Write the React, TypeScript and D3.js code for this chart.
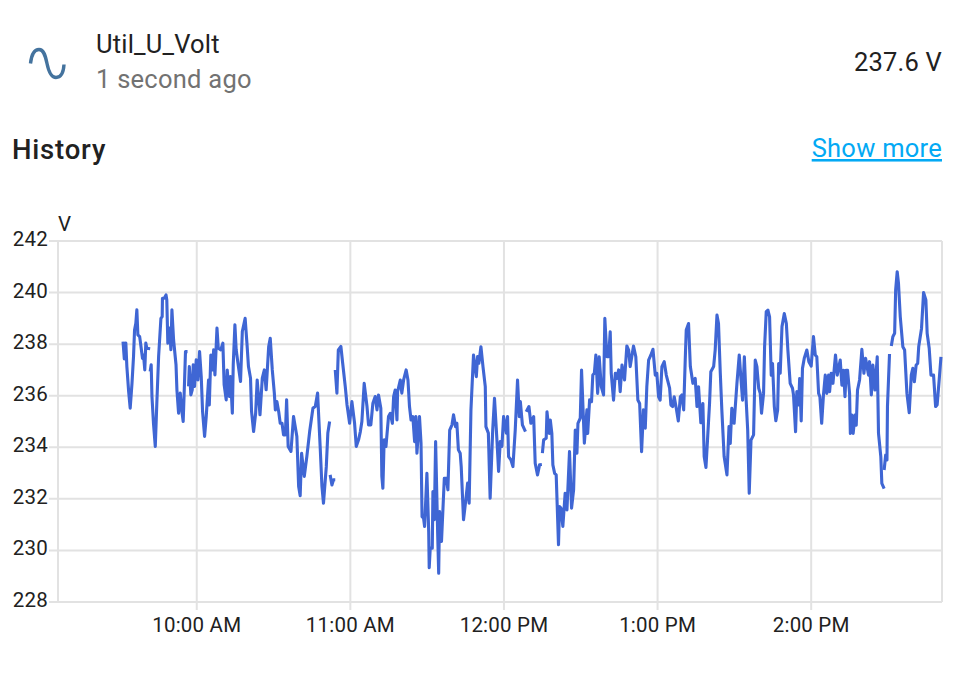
import React from "react";
import * as d3 from "d3";

type P = [number, number];
// [minutes after 10:00 AM, volts]
const run1: P[] = [[-28.8,238.1],[-28.3,237.43],[-27.7,238.04],[-27.3,237.13],[-26.6,236.16],[-26,235.52],[-25.3,236.48],[-24.7,237.52],[-24.3,238.55],[-23.8,238.81],[-23.4,239.33],[-23,238.36],[-22.3,238.29],[-21.7,237.84],[-21.2,237.45],[-20.8,237.58],[-20.3,237],[-19.9,238.04],[-19.5,237.84],[-18.2,237.82]];
const run2: P[] = [[-18.2,236.94],[-17.8,237.2],[-17.5,235.97],[-16.9,234.93],[-16.2,234.03],[-15.6,235.71],[-14.9,237.52],[-14,239],[-13.5,239.07],[-13.4,239.78],[-12.7,239.78],[-12,239.91],[-11.7,239.71],[-11.3,238.04],[-10.6,238.62],[-10.1,237.78],[-9.7,239.33],[-9.05,238.16],[-8.1,237.2],[-7.75,236.23],[-7.1,235.32],[-6.45,236.1],[-5.8,235.39],[-5.3,235],[-4.75,236.61],[-4.4,237.71],[-3.6,237.71]];
const run3: P[] = [[-3.2,236.36],[-2.9,237.13],[-2.3,236.03],[-1.76,236.23],[-1.37,237.2],[-0.85,236.36],[-0.2,237.39],[0.45,236.61],[1.1,237.71],[1.75,236.74],[2.27,235.39],[3.06,234.42],[3.7,235.19],[4.6,236.61],[4.9,235.64],[5.5,237.58],[6.2,237],[6.6,237.78],[7.1,236.81],[7.9,238.62],[8.4,237.84],[9.4,237.78],[10.2,238.04],[10.7,236.42],[11.5,235.84],[11.9,237],[12.7,235.97],[13.2,236.74],[13.9,235.32],[14.25,237.2],[14.9,238.75],[15.4,237.78],[16.1,237.26],[17.1,236.55],[17.8,238.49],[18.9,239],[19.6,238.04],[20.2,237.13],[21,236.68],[21.4,235.39],[22.2,234.61],[23,235.32],[23.6,236.61],[24.7,235.26],[25.6,236.68],[26.4,237],[27.1,236.23],[28.1,237.91],[28.7,238.23],[29.5,237],[30.3,236.1],[30.7,235.45],[31.3,235.77],[32,235.39],[32.6,234.93],[33.3,234.93],[33.9,234.48],[34.6,234.48],[35.1,235.84],[35.7,234.03],[36.8,233.84],[37.8,235.19],[39.1,234.42],[39.8,232.48],[40.4,232.12],[40.95,233.77],[42,232.87],[43,233.64],[44.1,234.61],[45.1,235.32],[45.4,235.52],[46.3,235.58],[47.2,236.1],[48.2,234.03],[48.9,232.48],[49.5,231.83],[50.6,233.25],[51.2,234.55],[51.9,235]];
const run4: P[] = [[52.1,232.93],[52.8,232.54],[53.4,232.74],[54.1,232.74]];
const run5: P[] = [[54.1,237],[54.75,236.1],[55.3,237.78],[56.3,237.91],[57,237.26],[58,236.36],[58.7,235.64],[59.7,234.93],[60.6,235.77],[61.65,234.93],[62.3,234.03],[63.2,234.29],[63.9,234.61],[64.5,235],[65.4,236.48],[66.5,235.58],[67.1,234.87],[68,234.87],[68.8,235.71],[69.7,235.97],[70.4,235.45],[71,236.03],[71.9,235.51],[72.3,232.87],[72.7,232.41],[73.2,234.29],[73.9,234.03],[74.9,235.19],[75.6,235.32],[76.4,234.93],[76.9,235.97],[77.5,236.22],[78.2,235.06],[78.45,236.16],[79.5,236.61],[80.1,236.1],[80.8,236.61],[81.8,237],[82.5,236.61],[83.1,235.58],[83.7,235.06],[84.4,235.19],[85.1,234.22],[85.6,235.19],[86,233.77],[87,235.19],[87.6,234.16],[88,231.31],[88.6,231.25],[89,230.93],[89.9,232.99],[90.6,230.73],[90.8,229.33],[91.2,230.09],[92,230.09],[92.25,232.28],[92.8,231.19],[93.3,234.22],[94.1,230.67],[94.5,229.12],[94.85,231.51],[95.6,230.35],[96.7,232.8],[97.5,232.8],[98.1,232.35],[98.8,234.67],[99.7,234.87],[100.3,235.26],[101.1,234.8],[101.6,234.93],[102.2,233.9],[102.9,233.77],[103.3,233.25],[104.2,231.19],[105.1,231.96],[105.8,232.61],[106.4,231.83],[107.1,235.45],[108.1,237.58],[109.2,236.74],[109.7,237.52],[110.2,237.26],[111,237.9],[111.8,237.13],[112.7,236.35],[112.95,234.8],[113.9,234.55],[114.6,232.03],[115.6,234.67],[116.3,235.9],[117.25,234.29],[117.9,233.06],[118.55,234.22],[119.2,234.03],[119.85,235.19],[120.9,234.55],[121.4,235.19],[121.8,233.64],[122.7,233.51],[123.5,233.25],[124.4,234.67],[125.3,236.61],[126,235.19],[126.4,235.77],[127.2,234.87],[128.4,234.61]];
const run6: P[] = [[128.7,235.38],[129.75,235.58],[130.5,234.93],[131.6,235.19],[132.2,233.38],[133.1,232.93],[133.9,233.32],[134.8,233.33]];
const run7: P[] = [[135,233.77],[135.5,234.29],[136.5,234.35],[136.8,235.38],[137.7,234.54],[138.1,235.06],[138.7,234.54],[139.1,233.32],[139.8,232.99],[140.4,232.93],[141.3,230.22],[141.7,231.7],[142.25,231.64],[143,230.93],[143.9,232.22],[144.6,231.57],[145.6,233.83],[146.4,231.64],[147.2,232.35],[147.85,234.67],[148.5,233.77],[148.9,234.93],[149.8,235.13],[150.3,237],[151.4,234.16],[152.4,235.45],[152.7,234.54],[153.45,235.84],[154.2,235.77],[154.7,236.8],[155.3,236.87],[155.9,237.58],[156.6,236.09],[157.2,237.51],[158,236.35],[158.9,236.03],[159.4,239],[160.2,237.51],[160.9,237.51],[161.5,238.48],[161.9,236.87],[162.8,235.83],[163.5,236.87],[164.1,236.67],[164.8,237],[165.4,236.16],[166.1,237.19],[167.1,236.61],[168,237.93],[168.7,237.77],[169.3,237.13],[170.6,237.93],[171.5,237.51],[172.3,235.83],[173,235.7],[173.75,233.83],[174.5,235.45],[175.2,234.74],[175.8,236.35],[176.5,237.38],[177.4,237.58],[178.2,237.8],[179.1,236.8],[179.7,236.87],[180.4,235.96],[181,235.83],[181.7,237.13],[182.6,237.32],[183.4,236.8],[184.7,236.29],[185.2,235.64],[185.9,235.58],[186.5,235.96],[187.3,235.51],[188.1,235.02],[188.9,235.96],[189.5,236.03],[190.2,235.45],[190.8,237.38],[191.2,238.55],[192.1,238.8],[192.8,237.13],[193.8,236.48],[194.7,236.67],[195.4,235.58],[196,236.35],[196.9,234.95],[197.7,235.7],[198.2,233.64],[198.9,233.22],[199.5,234.28],[200.3,235.7],[200.8,236.93],[201.9,237.13],[202.5,237.77],[203.2,239.13],[203.8,238.8],[204.5,236.87],[205.1,235.45],[206,233.64],[207.1,232.93],[207.9,234.8],[208.4,234.15],[209,235.51],[209.9,234.93],[211,236.48],[211.9,237.58],[212.7,236.48],[213.2,235.83],[213.9,237.51],[214.6,235.83],[215.2,234.67],[215.8,232.22],[216.5,234.28],[217.5,234.48],[218.15,237.38],[218.8,237.13],[219.5,236.29],[220.1,236.09],[220.6,235.32],[221.4,236.09],[221.8,237.9],[222.45,239.26],[223.1,239.32],[223.75,239.06],[224.4,236.8],[224.9,237.25],[225.6,235.58],[226.2,235.03],[226.9,235.45],[227.3,237.25],[227.9,236.87],[228.6,238.68],[229.5,239.19],[230.3,238.8],[230.9,237.77],[231.8,236.48],[232.7,236.29],[233.1,236.03],[233.9,234.6],[234.4,236.16],[235.1,235.64],[235.5,236.67],[236.1,235.02],[236.6,237.06],[237.3,237.45],[238.3,237.77],[239.1,237.32],[240,237.15],[240.9,238.29],[241.6,237.58],[242.2,237.51],[242.9,236.09],[243.4,235.96],[244.1,234.93],[244.8,236.03],[245.5,236.8],[246.1,236.09],[246.8,236.8],[247.2,236.16],[247.8,236.87],[248.5,236.48],[249.5,237.58],[250.2,236.8],[250.8,237.13],[251.35,237.38],[252,236.41],[252.65,236.99],[253.2,235.96],[253.7,236.99],[254.2,236.99],[255,236.09],[255.3,234.54],[255.9,235.25],[256.4,234.54],[257.1,235.25],[257.6,234.86],[258.1,236.22],[258.9,236.61],[259.8,237.8],[260.6,236.87],[261.25,237.45],[262.4,236.8],[262.8,237.32],[263.5,236.03],[264.1,237.19],[264.9,236.22],[265.8,237.51],[266.3,234.54],[267.2,233.64],[267.6,232.6],[268.5,232.4]];
const run8: P[] = [[268.5,233.12],[269.1,233.7],[269.6,233.51],[269.8,235.58],[270.6,237.62]];
const run9: P[] = [[271.3,237.93],[271.9,238.29],[272.6,238.42],[273,240.1],[273.6,240.81],[274.1,240.36],[274.8,239.06],[275.8,237.9],[276.5,237.77],[277.4,236.09],[278.3,235.34],[279.1,236.8],[279.7,237.06],[280.3,236.54],[281,237.19],[281.6,237.25],[282,237.9],[283.1,238.61],[283.9,240],[284.8,239.71],[285.3,238.42],[286.1,237.84],[286.8,236.8],[287.8,236.8],[288.6,235.58],[289.2,235.64],[290,236.61],[290.7,237.51]];
const runs: P[][] = [run1, run2, run3, run4, run5, run6, run7, run8, run9];

const yTicks = [228, 230, 232, 234, 236, 238, 240, 242];
const xTickMinutes = [0, 60, 120, 180, 240];
const xTickLabels = ["10:00 AM", "11:00 AM", "12:00 PM", "1:00 PM", "2:00 PM"];

const FONT = "Roboto, sans-serif";
const TEXT = "#212121";
const GRID = "#e2e2e2";

export default function App() {
  const x = d3.scaleLinear().domain([-54.2, 291.1]).range([58, 942]);
  const y = d3.scaleLinear().domain([228, 242]).range([602, 241]);
  const line = d3.line<P>().x((d) => x(d[0])).y((d) => y(d[1])).curve(d3.curveLinear);

  return (
    <svg width={971} height={685} style={{ position: "absolute", left: 0, top: 0, background: "#fff" }} fontFamily={FONT}>
      <path
        d="M30.5 63.5 C31.5 54 35 49.5 39 49.5 C44 49.5 45.5 56 47 63.5 C48.5 71 51 77.5 56 77.5 C60.5 77.5 63.5 73 64 64.5"
        fill="none" stroke="#44739e" strokeWidth={3.4}
      />
      <text x={96} y={53} fontSize={25.5} fill={TEXT} letterSpacing={0.2}>Util_U_Volt</text>
      <text x={96} y={88} fontSize={25.5} fill="#727272" letterSpacing={0.25}>1 second ago</text>
      <text x={942} y={71} fontSize={25.5} fill={TEXT} textAnchor="end" letterSpacing={0.2}>237.6 V</text>
      <text x={12} y={159} fontSize={27.5} fontWeight={500} fill={TEXT} letterSpacing={0.8}>History</text>
      <text x={942} y={157} fontSize={25.5} fill="#03a9f4" textAnchor="end" textDecoration="underline" letterSpacing={0.25}>Show more</text>

      {yTicks.map((t) => (
        <g key={t}>
          <line x1={49} x2={942} y1={y(t)} y2={y(t)} stroke={GRID} strokeWidth={2} />
          <text x={48} y={y(t) + 5} fontSize={20.5} fill={TEXT} textAnchor="end" letterSpacing={0.2}>{t}</text>
        </g>
      ))}
      <line x1={58} x2={58} y1={241} y2={602} stroke={GRID} strokeWidth={2} />
      <line x1={942} x2={942} y1={241} y2={602} stroke={GRID} strokeWidth={2} />
      {xTickMinutes.map((m, i) => (
        <g key={m}>
          <line x1={x(m)} x2={x(m)} y1={241} y2={610} stroke={GRID} strokeWidth={2} />
          <text x={x(m)} y={631.5} fontSize={20.5} fill={TEXT} textAnchor="middle" letterSpacing={0.2}>{xTickLabels[i]}</text>
        </g>
      ))}
      <text x={58} y={231} fontSize={20.5} fill={TEXT}>V</text>
      {runs.map((r, i) => (
        <path key={i} d={line(r) ?? ""} fill="none" stroke="#3f66d4" strokeWidth={3.1} strokeLinejoin="round" />
      ))}
    </svg>
  );
}
